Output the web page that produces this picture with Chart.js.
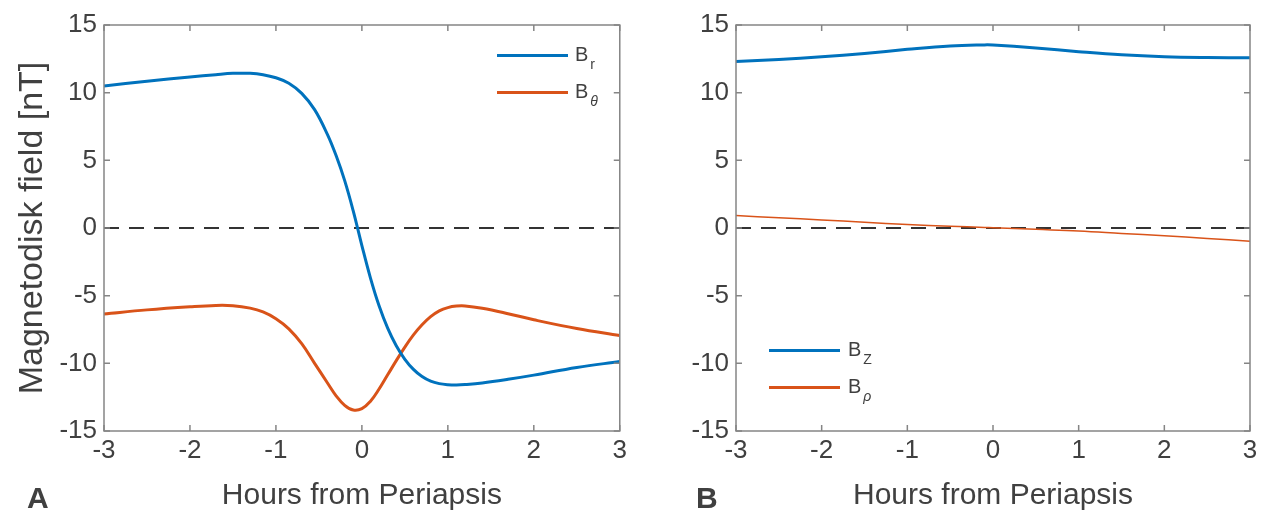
<!DOCTYPE html>
<html>
<head>
<meta charset="utf-8">
<script src="https://cdn.jsdelivr.net/npm/chart.js@4.4.1/dist/chart.umd.min.js"></script>
<style>
  html, body { margin:0; padding:0; background:#fff; }
  #wrap { position:relative; width:1262px; height:511px; overflow:hidden; font-family:"Liberation Sans", Arial, Helvetica, sans-serif; color:#404040; }
  canvas { position:absolute; top:0; }
  .legline { position:absolute; height:3px; width:71px; }
  .legtxt { position:absolute; font-size:20px; line-height:20px; color:#404040; white-space:nowrap; }
  .legtxt .sub { font-size:14px; position:relative; top:8px; margin-left:2px; }
  .panel { position:absolute; font-size:30px; font-weight:bold; color:#404040; line-height:30px; }
</style>
</head>
<body>
<div id="wrap">
  <canvas id="cA" width="631" height="511" style="left:0px"></canvas>
  <canvas id="cB" width="631" height="511" style="left:631px"></canvas>

  <div class="legline" style="left:497px; top:54px; background:#0072BD"></div>
  <div class="legtxt" style="left:575px; top:44px">B<span class="sub">r</span></div>
  <div class="legline" style="left:497px; top:91px; background:#D95319"></div>
  <div class="legtxt" style="left:575px; top:81px">B<span class="sub"><i>θ</i></span></div>

  <div class="legline" style="left:769px; top:349px; background:#0072BD"></div>
  <div class="legtxt" style="left:848px; top:339px">B<span class="sub">Z</span></div>
  <div class="legline" style="left:769px; top:386px; height:2.5px; background:#D95319"></div>
  <div class="legtxt" style="left:848px; top:376px">B<span class="sub"><i>ρ</i></span></div>

  <div class="panel" style="left:27px; top:483px">A</div>
  <div class="panel" style="left:696px; top:483px">B</div>
</div>
<script>
// ---------- data ----------
const xTicks = [-3, -2, -1, 0, 1, 2, 3];
const yTicks = [-15, -10, -5, 0, 5, 10, 15];

const hoursA = [-3, -2.5, -2, -1.7, -1.5, -1.3, -1.15, -1, -0.85, -0.7, -0.55, -0.4, -0.3, -0.2, -0.1, 0, 0.1, 0.2, 0.3, 0.4, 0.5, 0.6, 0.7, 0.8, 0.9, 1.0, 1.1, 1.2, 1.4, 1.7, 2, 2.5, 3];
const Br = [10.5, 10.85, 11.15, 11.33, 11.43, 11.43, 11.33, 11.1, 10.7, 9.95, 8.75, 6.9, 5.35, 3.5, 1.25, -1.3, -3.7, -5.75, -7.4, -8.7, -9.7, -10.45, -10.98, -11.32, -11.5, -11.58, -11.6, -11.57, -11.45, -11.18, -10.87, -10.3, -9.87];
const Btheta = [-6.35, -6.05, -5.82, -5.72, -5.74, -5.92, -6.2, -6.7, -7.45, -8.55, -10.0, -11.45, -12.4, -13.1, -13.45, -13.35, -12.8, -11.9, -10.85, -9.8, -8.8, -7.9, -7.15, -6.55, -6.12, -5.88, -5.77, -5.76, -5.93, -6.33, -6.78, -7.43, -7.95];

const hoursB = [-3, -2.5, -2, -1.5, -1, -0.5, -0.1, 0, 0.5, 1, 1.5, 2, 2.5, 3];
const Bz = [12.3, 12.45, 12.65, 12.9, 13.2, 13.45, 13.53, 13.52, 13.3, 13.03, 12.8, 12.66, 12.6, 12.58];
const Brho = [0.92, 0.76, 0.6, 0.42, 0.25, 0.13, 0.04, 0.02, -0.1, -0.22, -0.4, -0.58, -0.77, -0.97];

const zeroX = [-3, 3];
const zeroY = [0, 0];

const xTitle = "Hours from Periapsis";
const yTitle = "Magnetodisk field [nT]";

// ---------- helpers ----------
const FONT = '"Liberation Sans", Arial, Helvetica, sans-serif';
const TXT = '#404040';
const BOX = '#858585';
function pts(xs, ys) { return xs.map((x, i) => ({ x: x, y: ys[i] })); }

const boxPlugin = {
  id: 'matlabBox',
  afterDatasetsDraw(chart) {
    const { ctx, chartArea: a, scales } = chart;
    ctx.save();
    ctx.strokeStyle = BOX;
    ctx.lineWidth = 1.5;
    ctx.strokeRect(a.left, a.top, a.right - a.left, a.bottom - a.top);
    ctx.beginPath();
    const L = 6;
    xTicks.forEach(v => {
      const px = scales.x.getPixelForValue(v);
      ctx.moveTo(px, a.bottom); ctx.lineTo(px, a.bottom - L);
      ctx.moveTo(px, a.top); ctx.lineTo(px, a.top + L);
    });
    yTicks.forEach(v => {
      const py = scales.y.getPixelForValue(v);
      ctx.moveTo(a.left, py); ctx.lineTo(a.left + L, py);
      ctx.moveTo(a.right, py); ctx.lineTo(a.right - L, py);
    });
    ctx.stroke();
    ctx.restore();
  }
};

function makeOptions(showYTitle, rightPad, yWidth) {
  return {
    responsive: false,
    animation: false,
    devicePixelRatio: 1,
    layout: { padding: { left: 0, right: rightPad, top: 25, bottom: 0 } },
    plugins: { legend: { display: false }, tooltip: { enabled: false } },
    elements: { point: { radius: 0 }, line: { tension: 0.4, capBezierPoints: true } },
    scales: {
      x: {
        type: 'linear', min: -3, max: 3,
        afterBuildTicks: s => { s.ticks = xTicks.map(v => ({ value: v })); },
        afterFit: s => { s.height = 80; },
        ticks: { font: { family: FONT, size: 26 }, color: TXT, padding: 4, maxRotation: 0 },
        grid: { display: false, drawTicks: false },
        border: { display: false },
        title: { display: true, text: xTitle, color: TXT, font: { family: FONT, size: 30, lineHeight: 1 }, padding: { top: 0, bottom: 0 } }
      },
      y: {
        type: 'linear', min: -15, max: 15,
        afterBuildTicks: s => { s.ticks = yTicks.map(v => ({ value: v })); },
        afterFit: s => { s.width = yWidth; },
        ticks: { font: { family: FONT, size: 26 }, color: TXT, padding: 7 },
        grid: { display: false, drawTicks: false },
        border: { display: false },
        title: { display: showYTitle, text: yTitle, color: TXT, font: { family: FONT, size: 34, lineHeight: 1 }, padding: { top: 16, bottom: 0 } }
      }
    }
  };
}

function zeroDataset() {
  return { data: pts(zeroX, zeroY), borderColor: '#333333', borderWidth: 1.8, borderDash: [15, 10], tension: 0, fill: false };
}

new Chart(document.getElementById('cA'), {
  type: 'line',
  data: {
    datasets: [
      { label: 'Br', data: pts(hoursA, Br), borderColor: '#0072BD', borderWidth: 3, fill: false },
      { label: 'Btheta', data: pts(hoursA, Btheta), borderColor: '#D95319', borderWidth: 3, fill: false },
      zeroDataset()
    ]
  },
  options: makeOptions(true, 11, 104),
  plugins: [boxPlugin]
});

new Chart(document.getElementById('cB'), {
  type: 'line',
  data: {
    datasets: [
      { label: 'Bz', data: pts(hoursB, Bz), borderColor: '#0072BD', borderWidth: 3, fill: false },
      { label: 'Brho', data: pts(hoursB, Brho), borderColor: '#D95319', borderWidth: 1.5, fill: false },
      zeroDataset()
    ]
  },
  options: makeOptions(false, 12, 105),
  plugins: [boxPlugin]
});
</script>
</body>
</html>
